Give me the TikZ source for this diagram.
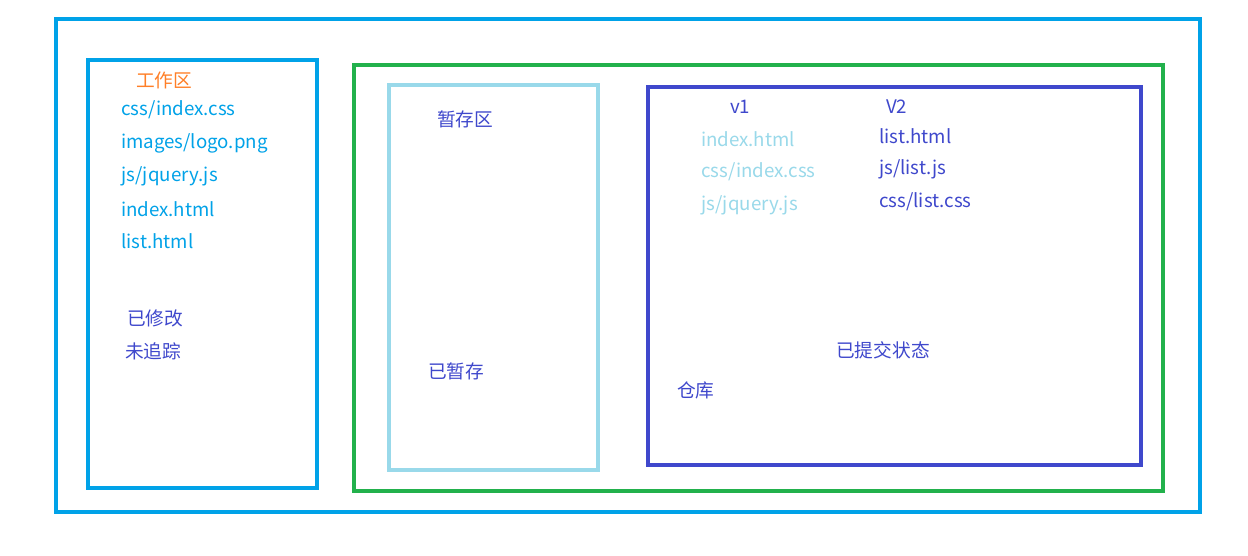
\documentclass[tikz,border=0pt]{standalone}
\usepackage{fontspec}
\setmainfont{Noto Sans CJK SC}
\definecolor{outerblue}{HTML}{00A2E8}
\definecolor{grn}{HTML}{22B14C}
\definecolor{lblue}{HTML}{99D9EA}
\definecolor{indigo}{HTML}{3F48CC}
\definecolor{orng}{HTML}{FF7F27}
\tikzset{
  frame/.style={line width=4pt},
  lbl/.style={anchor=west, inner sep=0pt, font=\fontsize{18.7}{22}\selectfont},
}
\begin{document}
\begin{tikzpicture}[x=1pt,y=-1pt]
\useasboundingbox (0,0) rectangle (1248,556);
\fill[white] (0,0) rectangle (1248,556);
% frames
\draw[frame, outerblue] (56,19) rectangle (1200,512);
\draw[frame, outerblue] (88,60) rectangle (317,488);
\draw[frame, grn] (354,65) rectangle (1163,491);
\draw[frame, lblue, line width=4.5pt] (389,85) rectangle (598,470);
\draw[frame, indigo] (648,87) rectangle (1141,465);
% working area
\node[lbl, text=orng] (wa) at (136,80) {工作区};
\node[lbl, text=outerblue] (f1) at (121,110) {css/index.css};
\node[lbl, text=outerblue] (f2) at (121,143) {images/logo.png};
\node[lbl, text=outerblue] (f3) at (121,176) {js/jquery.js};
\node[lbl, text=outerblue] (f4) at (121,209) {index.html};
\node[lbl, text=outerblue] (f5) at (121,241) {list.html};
\node[lbl, text=indigo] (m1) at (127,318) {已修改};
\node[lbl, text=indigo] (m2) at (125,351) {未追踪};
% staging
\node[lbl, text=indigo] (st) at (437,119) {暂存区};
\node[lbl, text=indigo] (st2) at (428,371) {已暂存};
% repo
\node[lbl, text=indigo] (v1) at (730,107) {v1};
\node[lbl, text=indigo] (v2) at (886,107) {V2};
\node[lbl, text=lblue] (a1) at (701,139) {index.html};
\node[lbl, text=lblue] (a2) at (701,172) {css/index.css};
\node[lbl, text=lblue] (a3) at (701,205) {js/jquery.js};
\node[lbl, text=indigo] (b1) at (879,136) {list.html};
\node[lbl, text=indigo] (b2) at (879,169) {js/list.js};
\node[lbl, text=indigo] (b3) at (879,202) {css/list.css};
\node[lbl, text=indigo] (cs) at (836,350) {已提交状态};
\node[lbl, text=indigo] (rp) at (677,390) {仓库};
\end{tikzpicture}
\end{document}
